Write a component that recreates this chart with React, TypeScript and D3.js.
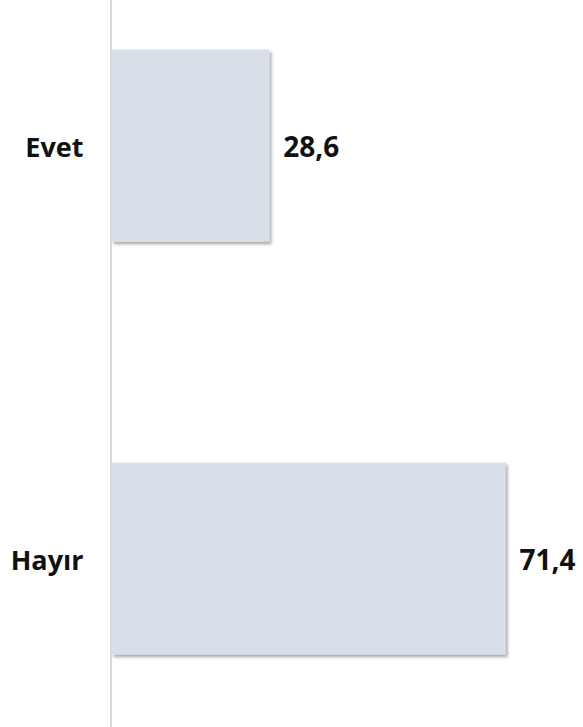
import * as d3 from "d3";
import { useEffect, useRef } from "react";

/* Data ---------------------------------------------------------------- */

const CATEGORIES = ["Evet", "Hayır"];
const VALUES = [28.6, 71.4];

/* Theme --------------------------------------------------------------- */

const W = 583;
const H = 727;
const BAR = "#d9dfe8";
const AXIS = "#d9d9d9";
const TEXT = "#111111";
const FONT = "'Open Sans', 'Liberation Sans', sans-serif";

export default function App() {
  const svgRef = useRef<SVGSVGElement>(null);

  useEffect(() => {
    const svg = svgRef.current;
    if (!svg) return;

    const x = d3.scaleLinear().domain([0, 80]).range([111.5, 553]);
    const y = d3
      .scaleBand<string>()
      .domain(CATEGORIES)
      .range([-61, 765])
      .paddingInner(0.535)
      .paddingOuter(0.2675);

    const data = CATEGORIES.map((c, i) => ({ cat: c, value: VALUES[i] }));

    const sel = d3.select(svg);
    sel.selectAll("*").remove();

    const defs = sel.append("defs");
    defs
      .append("filter")
      .attr("id", "shadow")
      .attr("x", "-10%")
      .attr("y", "-10%")
      .attr("width", "130%")
      .attr("height", "130%")
      .append("feDropShadow")
      .attr("dx", 2)
      .attr("dy", 2.5)
      .attr("stdDeviation", 1.5)
      .attr("flood-color", "#000")
      .attr("flood-opacity", 0.35);

    /* Bars */
    sel
      .selectAll("rect.bar")
      .data(data)
      .join("rect")
      .attr("class", "bar")
      .attr("x", x(0))
      .attr("y", (d) => y(d.cat)!)
      .attr("width", (d) => x(d.value) - x(0))
      .attr("height", y.bandwidth())
      .attr("fill", BAR)
      .attr("filter", "url(#shadow)");

    /* Axis line */
    sel
      .append("line")
      .attr("x1", x(0) - 0.5)
      .attr("x2", x(0) - 0.5)
      .attr("y1", 0)
      .attr("y2", H)
      .attr("stroke", AXIS)
      .attr("stroke-width", 2);

    /* Category labels */
    sel
      .selectAll("text.cat")
      .data(data)
      .join("text")
      .attr("class", "cat")
      .attr("x", x(0) - 28)
      .attr("y", (d) => y(d.cat)! + y.bandwidth() / 2 + 4)
      .attr("text-anchor", "end")
      .attr("dominant-baseline", "middle")
      .attr("font-family", FONT)
      .attr("font-weight", 700)
      .attr("font-size", 27)
      .attr("fill", TEXT)
      .text((d) => d.cat);

    /* Value labels */
    sel
      .selectAll("text.val")
      .data(data)
      .join("text")
      .attr("class", "val")
      .attr("x", (d) => x(d.value) + 14)
      .attr("y", (d) => y(d.cat)! + y.bandwidth() / 2 + 4)
      .attr("dominant-baseline", "middle")
      .attr("font-family", FONT)
      .attr("font-weight", 700)
      .attr("font-size", 28)
      .attr("fill", TEXT)
      .text((d) => d3.format(".1f")(d.value).replace(".", ","));
  }, []);

  return (
    <div style={{ position: "absolute", left: 0, top: 0, background: "#fff" }}>
      <svg ref={svgRef} width={W} height={H} style={{ display: "block" }} />
    </div>
  );
}
